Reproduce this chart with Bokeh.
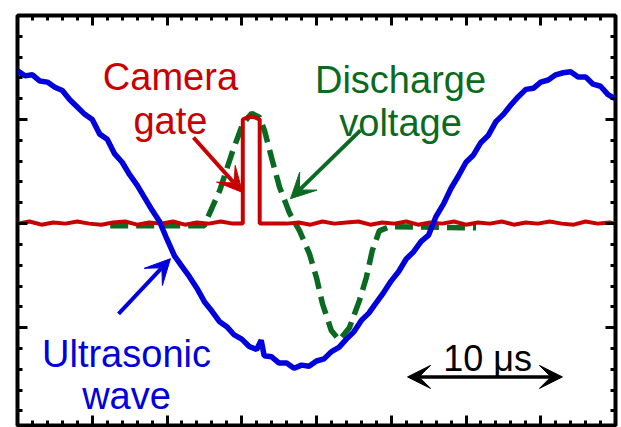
from bokeh.plotting import figure
from bokeh.models import (Range1d, LinearAxis, SingleIntervalTicker, Label, Arrow, VeeHead,
                          CustomJSTickFormatter)
from bokeh.embed import file_html
from bokeh.resources import INLINE

# ---- data (time in microseconds, signal in arbitrary units) ----
wave_t = [0.0, 0.5, 1.0, 1.5, 2.0, 2.5, 3.0, 3.5, 4.0, 4.5, 5.0, 5.5, 6.0, 6.5, 7.0, 7.5,
          8.0, 8.5, 9.0, 9.5, 10.0, 10.5, 11.0, 11.5, 12.0, 12.5, 13.0, 13.5, 14.0, 14.5,
          15.0, 15.5, 16.0, 16.3, 16.5, 17.0, 17.5, 18.0, 18.5, 19.0, 19.5, 20.0, 20.5,
          21.0, 21.5, 22.0, 22.5, 23.0, 23.5, 24.0, 24.5, 25.0, 25.5, 26.0, 26.5, 27.0,
          27.5, 28.0, 28.5, 29.0, 29.5, 30.0, 30.5, 31.0, 31.5, 32.0, 32.5, 33.0, 33.5,
          34.0, 34.5, 35.0, 35.5, 36.0, 36.5, 37.0, 37.5, 38.0, 38.5, 39.0, 39.5, 40.0]
wave_v = [1.47, 1.42, 1.43, 1.37, 1.36, 1.31, 1.28, 1.19, 1.12, 1.05, 1.00, 0.86, 0.81, 0.67,
          0.59, 0.47, 0.37, 0.25, 0.13, 0.02, -0.15, -0.31, -0.41, -0.51, -0.62, -0.75, -0.84,
          -0.94, -0.99, -1.07, -1.11, -1.18, -1.21, -1.12, -1.27, -1.28, -1.34, -1.34, -1.39,
          -1.36, -1.37, -1.32, -1.30, -1.23, -1.19, -1.11, -1.04, -0.93, -0.86, -0.76, -0.66,
          -0.55, -0.46, -0.34, -0.27, -0.17, -0.11, 0.07, 0.19, 0.34, 0.46, 0.59, 0.66, 0.78,
          0.85, 0.98, 1.05, 1.14, 1.22, 1.29, 1.30, 1.36, 1.38, 1.43, 1.45, 1.46, 1.41, 1.41,
          1.34, 1.32, 1.24, 1.20]

gate_t = [0.0, 0.8, 1.6, 2.4, 3.2, 4.0, 4.8, 5.6, 6.4, 7.2, 8.0, 8.8, 9.6, 10.4, 11.2, 12.0,
          12.8, 13.6, 14.4, 15.07, 15.07, 15.5, 15.9, 16.2, 16.2, 17.0, 18.0, 18.8, 19.6,
          20.4, 21.2, 22.0, 22.8, 23.6, 24.4, 25.2, 26.0, 26.8, 27.6, 28.4, 29.2, 30.0, 30.8,
          31.6, 32.4, 33.2, 34.0, 34.8, 35.6, 36.4, 37.2, 38.0, 38.8, 39.6, 40.0]
gate_v = [0.00, 0.02, -0.01, 0.01, 0.00, 0.02, 0.00, -0.01, 0.01, 0.02, -0.01, 0.01, 0.00,
          0.02, -0.01, 0.01, 0.00, 0.02, 0.00, 0.00, 1.00, 1.03, 1.02, 1.00, 0.00, 0.00,
          0.00, 0.01, -0.01, 0.02, 0.00, 0.01, 0.02, -0.01, 0.01, 0.00, 0.02, -0.01, 0.01,
          0.00, 0.02, -0.01, 0.01, 0.00, 0.02, -0.01, 0.01, 0.00, 0.02, 0.00, -0.01, 0.02,
          0.00, 0.01, 0.00]

volt_t = [6.2, 12.5, 12.73, 13.53, 14.4, 15.07, 15.67, 16.2, 16.53, 17.0, 17.53, 18.2, 18.87,
          19.53, 20.0, 20.4, 21.0, 21.53, 22.2, 22.87, 23.33, 23.73, 24.2, 24.87, 30.67]
volt_v = [-0.02, -0.02, 0.06, 0.32, 0.70, 0.96, 1.06, 1.02, 0.89, 0.63, 0.35, 0.10, -0.07,
          -0.29, -0.52, -0.77, -1.03, -1.12, -1.00, -0.74, -0.52, -0.26, -0.07, -0.03, -0.04]

BLUE = "#0000dd"
RED = "#c80000"
GREEN = "#0b6a21"
FONT = "Liberation Sans"

p = figure(width=621, height=427, output_backend="svg", toolbar_location=None,
           x_range=Range1d(0, 40), y_range=Range1d(-1.94, 2.0),
           x_axis_location=None, y_axis_location=None,
           min_border_left=17, min_border_right=6, min_border_top=15, min_border_bottom=2)
p.grid.visible = False
p.outline_line_color = "black"
p.outline_line_width = 4
p.background_fill_color = "white"
p.border_fill_color = "white"

blank = CustomJSTickFormatter(code="return ''")
for loc, dim in (("below", "x"), ("above", "x"), ("left", "y"), ("right", "y")):
    if dim == "x":
        ticker = SingleIntervalTicker(interval=5, num_minor_ticks=5)
    else:
        ticker = SingleIntervalTicker(interval=1, num_minor_ticks=5)
    ax = LinearAxis(ticker=ticker, formatter=blank)
    ax.axis_line_color = None
    ax.major_tick_in = 10
    ax.major_tick_out = 0
    ax.minor_tick_in = 5
    ax.minor_tick_out = 0
    ax.major_tick_line_width = 3
    ax.minor_tick_line_width = 3
    ax.major_tick_line_color = "black"
    ax.minor_tick_line_color = "black"
    ax.major_label_text_font_size = "1px"
    ax.major_label_standoff = 0
    p.add_layout(ax, loc)

p.line(volt_t, volt_v, line_color=GREEN, line_width=5.5, line_dash="18 8", line_cap="butt")
p.line(gate_t, gate_v, line_color=RED, line_width=4)
p.line(wave_t, wave_v, line_color=BLUE, line_width=5.5)

def lab(x, y, text, color, size="38px"):
    p.add_layout(Label(x=x, y=y, text=text, text_color=color, text_font=FONT,
                       text_font_size=size, text_align="center", text_baseline="alphabetic"))

lab(10.23, 1.406, "Camera", RED)
lab(10.23, 0.99, "gate", RED)
lab(25.62, 1.377, "Discharge", GREEN)
lab(25.62, 0.963, "voltage", GREEN)
lab(7.29, -1.252, "Ultrasonic", BLUE)
lab(7.29, -1.656, "wave", BLUE)
lab(31.44, -1.30, "10 \u03bcs", "black", "36px")

def arr(x0, y0, x1, y1, color, width=4, size=25, start=False):
    kw = {}
    if start:
        kw["start"] = VeeHead(size=size, fill_color=color, line_color=color, line_width=1)
    p.add_layout(Arrow(x_start=x0, y_start=y0, x_end=x1, y_end=y1,
                       line_color=color, line_width=width,
                       end=VeeHead(size=size, fill_color=color, line_color=color, line_width=1),
                       **kw))

arr(11.77, 0.828, 15.05, 0.30, RED)
arr(22.94, 0.896, 18.26, 0.24, GREEN)
arr(6.76, -0.867, 10.23, -0.337, BLUE)
arr(26.09, -1.473, 36.45, -1.473, "black", width=3.5, size=23, start=True)

open("out.html", "w").write(file_html(p, INLINE))
